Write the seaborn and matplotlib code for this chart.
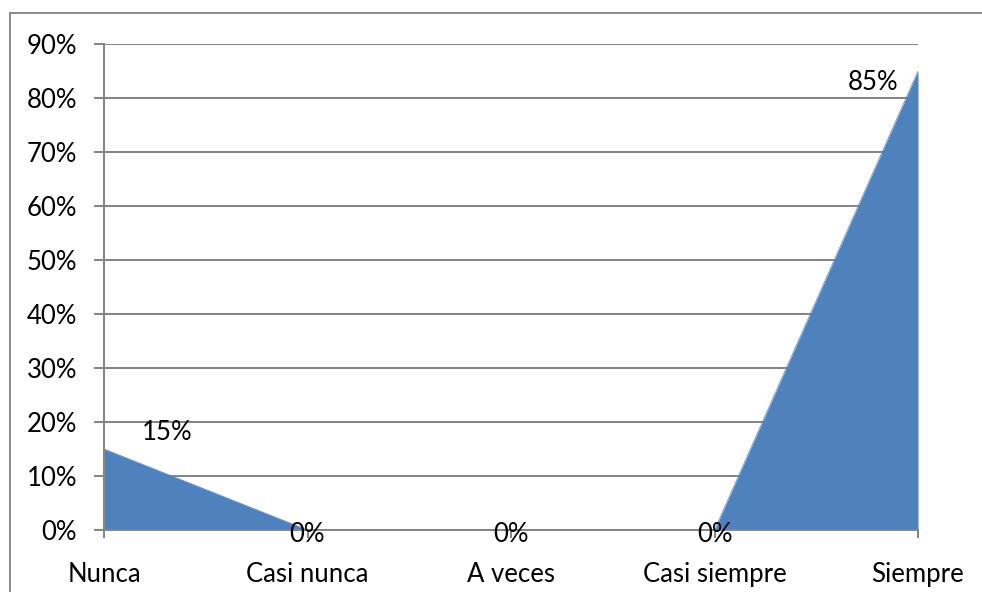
import matplotlib
matplotlib.use("Agg")
import matplotlib.pyplot as plt
from matplotlib.patches import Rectangle
from matplotlib.ticker import FuncFormatter, MultipleLocator
import seaborn as sns
import pandas as pd

categories = ["Nunca", "Casi nunca", "A veces", "Casi siempre", "Siempre"]
values = [0.15, 0.0, 0.0, 0.0, 0.85]
value_labels = ["15%", "0%", "0%", "0%", "85%"]

sns.set_style("white")
plt.rcParams["font.family"] = ["Lato", "DejaVu Sans"]

df = pd.DataFrame({"pos": range(len(categories)), "valor": values})

fig = plt.figure(figsize=(9.82, 5.92), dpi=100)
W, H = 982, 592
PX = 72 / 100  # points per pixel
ax = fig.add_axes([104 / W, 1 - 530 / H, (918 - 104) / W, (530 - 44) / H])

blue = "#4F81BD"
grid = "#868686"
fs = 18.5

ax.fill_between(df["pos"], 0, df["valor"], color=blue, linewidth=0, zorder=3)
sns.lineplot(data=df, x="pos", y="valor", ax=ax, color=blue, linewidth=0.5, zorder=3)

ax.set_xlim(0, len(categories) - 1)
ax.set_ylim(0, 0.9)
ax.yaxis.set_major_locator(MultipleLocator(0.1))
ax.yaxis.set_major_formatter(FuncFormatter(lambda v, _: f"{v * 100:.0f}%"))
ax.set_xticks(df["pos"])
ax.set_xticklabels(categories)
ax.set_xlabel("")
ax.set_ylabel("")

ax.grid(axis="y", color=grid, linewidth=2 * PX, zorder=1)
ax.grid(axis="x", visible=False)
for side in ["top", "right"]:
    ax.spines[side].set_visible(False)
for side in ["left", "bottom"]:
    ax.spines[side].set_color(grid)
    ax.spines[side].set_linewidth(2 * PX)
    ax.spines[side].set_zorder(4)

ax.tick_params(axis="y", length=10 * PX, width=2 * PX, color=grid, labelsize=fs,
               pad=17 * PX, left=True)
ax.tick_params(axis="x", length=8 * PX, width=2 * PX, color=grid, labelsize=fs,
               pad=24 * PX, bottom=True)
for lbl in ax.get_yticklabels() + ax.get_xticklabels():
    lbl.set_color("black")

# value labels beside each point
offsets = {0: (63, 16), 4: (-45, -11)}
for i, (v, txt) in enumerate(zip(values, value_labels)):
    dx, dy = offsets.get(i, (0, -5))
    ax.annotate(txt, (i, v), xytext=(dx, dy), textcoords="offset pixels",
                ha="center", va="center", fontsize=fs, color="black", zorder=5,
                annotation_clip=False)

# chart frame
fig.patches.append(Rectangle((10 / W, -0.05), 1.1, 1 - 13 / H + 0.05,
                             transform=fig.transFigure, fill=False,
                             edgecolor="#8C8C8C", linewidth=2 * PX, zorder=0))

fig.savefig("out.png", dpi=100)
